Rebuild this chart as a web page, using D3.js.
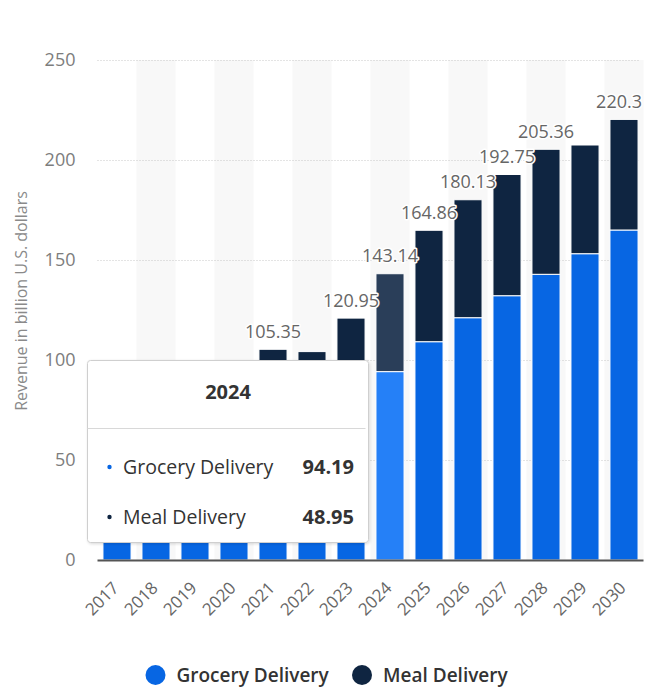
<!DOCTYPE html>
<html>
<head>
<meta charset="utf-8">
<script src="https://cdn.jsdelivr.net/npm/d3@7"></script>
<style>
  html, body { margin: 0; padding: 0; background: #fff; }
  svg { display: block; font-family: "Open Sans", "Noto Sans", sans-serif; }
</style>
</head>
<body>
<svg id="chart" width="653" height="689"></svg>
<script>
// Revenue by segment, billion U.S. dollars
const years = ["2017","2018","2019","2020","2021","2022","2023","2024","2025","2026","2027","2028","2029","2030"];
const grocery = [12.4, 15.8, 20.5, 45.3, 58.9, 60.3, 73.6, 94.19, 109.15, 121.15, 132.15, 142.85, 153.15, 165.0];
const meal    = [30.6, 37.1, 44.2, 41.6, 46.45, 43.9, 47.35, 48.95, 55.71, 58.98, 60.6, 62.51, 54.35, 55.3];
const seriesNames = ["Grocery Delivery", "Meal Delivery"];
const yTicks = [0, 50, 100, 150, 200, 250];
const activeYear = "2024";

const colors = { grocery: "#0766e3", meal: "#0f2541" };
const hoverColors = { grocery: "#2580f7", meal: "#2a3e59" };

const svg = d3.select("#chart");
const plot = { left: 97.5, right: 643.5, top: 60, bottom: 560 };
const tip = { x: 87.5, y: 360.5, w: 281, h: 182 };

const x = d3.scaleBand().domain(years).range([plot.left, plot.right])
  .paddingInner(0.28).paddingOuter(0.14);
const y = d3.scaleLinear().domain([0, 250]).range([plot.bottom, plot.top]);

const rows = years.map((yr, i) => ({ year: yr, grocery: grocery[i], meal: meal[i] }));
const stack = d3.stack().keys(["grocery", "meal"]);
const stacked = stack(rows);

// alternating column bands
svg.append("g").selectAll("rect")
  .data(years.filter((d, i) => i % 2 === 1))
  .join("rect")
  .attr("x", d => x(d) - x.step() * x.paddingInner() / 2)
  .attr("width", x.step())
  .attr("y", plot.top)
  .attr("height", plot.bottom - plot.top)
  .attr("fill", "#f8f8f8");

// gridlines + tick labels
const yAxis = d3.axisLeft(y).tickValues(yTicks).tickSize(-(plot.right - plot.left - 3)).tickPadding(22);
const gy = svg.append("g").attr("transform", `translate(${plot.left},0)`).call(yAxis);
gy.select(".domain").remove();
gy.selectAll(".tick line")
  .attr("stroke", "#c8c8c8").attr("stroke-dasharray", "1,2")
  .attr("stroke-width", 1);
gy.selectAll(".tick").filter(d => d === 0).select("line").remove();
gy.selectAll(".tick text")
  .attr("fill", "#7d7d7d").style("font-size", "18px")
  .style("font-family", "'Open Sans', sans-serif");

// y axis title
svg.append("text")
  .attr("transform", `translate(27,301) rotate(-90)`)
  .attr("text-anchor", "middle")
  .attr("fill", "#8a8a8a")
  .style("font-size", "16px")
  .text("Revenue in billion U.S. dollars");

// stacked bars
const gBars = svg.append("g");
stacked.forEach(layer => {
  gBars.append("g").selectAll("rect")
    .data(layer)
    .join("rect")
    .attr("x", d => x(d.data.year))
    .attr("width", x.bandwidth())
    .attr("y", d => y(d[1]))
    .attr("height", d => y(d[0]) - y(d[1]))
    .attr("fill", d => (d.data.year === activeYear ? hoverColors : colors)[layer.key])
    .attr("stroke", "#ffffff")
    .attr("stroke-width", 1);
});

// x axis
const xAxis = d3.axisBottom(x).tickSize(0).tickPadding(0);
const gx = svg.append("g").attr("transform", `translate(0,${plot.bottom})`).call(xAxis);
gx.select(".domain").remove();
svg.append("line")
  .attr("x1", plot.left).attr("x2", plot.right)
  .attr("y1", plot.bottom + 0.5).attr("y2", plot.bottom + 0.5)
  .attr("stroke", "#555").attr("stroke-width", 2);
gx.selectAll(".tick text")
  .attr("fill", "#666").style("font-size", "17px")
  .style("font-family", "'Open Sans', sans-serif")
  .attr("text-anchor", "end")
  .attr("y", 0)
  .attr("dy", 0)
  .attr("transform", "translate(3,29) rotate(-45)");

// total labels; a label is dropped when it collides with one already placed
// or sits under the tooltip box
const placed = [];
const tipBox = { x: tip.x, y: tip.y, width: tip.w, height: tip.h };
const overlaps = (a, b) => a.x < b.x + b.width && b.x < a.x + a.width &&
                           a.y < b.y + b.height && b.y < a.y + a.height;
const gLabels = svg.append("g");
rows.forEach(r => {
  const total = +(r.grocery + r.meal).toFixed(2);
  const cx = x(r.year) + x.bandwidth() / 2;
  const t = gLabels.append("text")
    .attr("x", cx)
    .attr("y", y(total) - 11.5)
    .attr("text-anchor", "middle")
    .attr("fill", "#666")
    .attr("stroke", "#fff").attr("stroke-width", 3)
    .attr("stroke-linejoin", "round")
    .attr("paint-order", "stroke")
    .style("font-size", "18px")
    .text(String(total));
  let b = t.node().getBBox();
  if (b.x + b.width > plot.right - 1.5) {
    t.attr("x", cx - (b.x + b.width - (plot.right - 1.5)));
    b = t.node().getBBox();
  }
  const hit = overlaps(b, tipBox) || placed.some(p => overlaps(b, p));
  if (hit) t.remove(); else placed.push(b);
});

// tooltip for the active year
const ai = years.indexOf(activeYear);
const defs = svg.append("defs");
const f = defs.append("filter").attr("id", "tipShadow")
  .attr("x", "-10%").attr("y", "-10%").attr("width", "130%").attr("height", "130%");
f.append("feDropShadow").attr("dx", 1).attr("dy", 1).attr("stdDeviation", 1.5)
  .attr("flood-color", "#000").attr("flood-opacity", 0.15);
const gTip = svg.append("g");
gTip.append("rect")
  .attr("x", tip.x).attr("y", tip.y).attr("width", tip.w).attr("height", tip.h)
  .attr("rx", 3).attr("fill", "#fff").attr("stroke", "#cfcfcf").attr("stroke-width", 1)
  .attr("filter", "url(#tipShadow)");
gTip.append("text")
  .attr("x", tip.x + tip.w / 2).attr("y", 399)
  .attr("text-anchor", "middle").attr("fill", "#333")
  .style("font-size", "20px").style("font-weight", "bold")
  .text(activeYear);
gTip.append("line")
  .attr("x1", tip.x).attr("x2", tip.x + tip.w - 3)
  .attr("y1", 428.5).attr("y2", 428.5)
  .attr("stroke", "#d8d8d8").attr("stroke-width", 1);
const tipRows = [
  { name: seriesNames[0], value: grocery[ai], color: colors.grocery, yy: 474 },
  { name: seriesNames[1], value: meal[ai], color: colors.meal, yy: 524 }
];
tipRows.forEach(r => {
  gTip.append("circle").attr("cx", 109.5).attr("cy", r.yy - 7).attr("r", 2.2).attr("fill", r.color);
  gTip.append("text").attr("x", 123).attr("y", r.yy)
    .attr("fill", "#333").style("font-size", "19.5px").text(r.name);
  gTip.append("text").attr("x", 354).attr("y", r.yy)
    .attr("text-anchor", "end").attr("fill", "#333")
    .style("font-size", "20px").style("font-weight", "bold").text(r.value);
});

// legend
const legend = svg.append("g");
const legendItems = [
  { name: seriesNames[0], color: colors.grocery, cx: 155.5 },
  { name: seriesNames[1], color: colors.meal, cx: 362 }
];
legendItems.forEach(l => {
  legend.append("circle").attr("cx", l.cx).attr("cy", 675).attr("r", 10).attr("fill", l.color);
  legend.append("text").attr("x", l.cx + 21).attr("y", 682)
    .attr("fill", "#333").style("font-size", "19px").style("font-weight", "600")
    .text(l.name);
});
</script>
</body>
</html>
